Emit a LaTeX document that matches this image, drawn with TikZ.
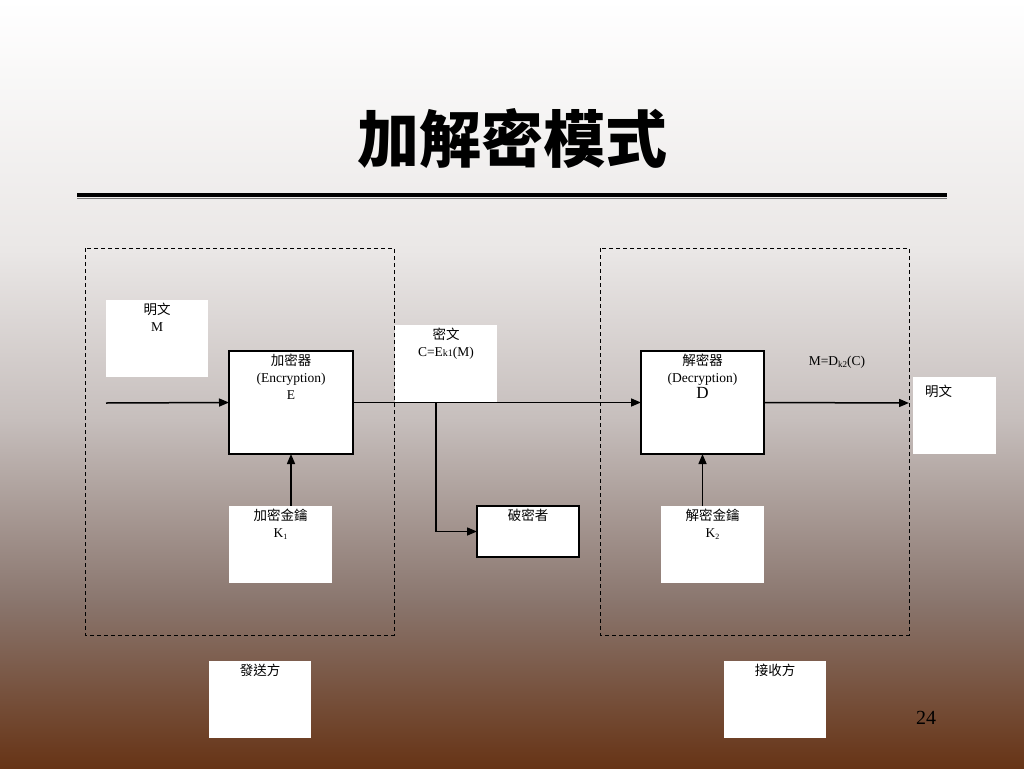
\documentclass[tikz,border=0pt]{standalone}
\usepackage{fontspec}
\setmainfont{Liberation Serif}
\newfontfamily\cjk{Noto Sans CJK TC}
\usetikzlibrary{arrows.meta}
\definecolor{g0}{RGB}{255,255,255}
\definecolor{g1}{RGB}{234,231,230}
\definecolor{g2}{RGB}{198,190,188}
\definecolor{g3}{RGB}{138,118,110}
\definecolor{g4}{RGB}{103,52,22}
\definecolor{rulegray}{RGB}{120,120,120}
\begin{document}
\begin{tikzpicture}[x=1pt,y=-1pt,
  wbox/.style={fill=white,draw=none,anchor=north west,inner sep=0pt,outer sep=0pt},
  bbox/.style={wbox,draw=black,line width=1.1pt},
  dbox/.style={draw=black,line width=1pt,dash pattern=on 4pt off 3pt},
  txt/.style={inner sep=0pt,align=center,anchor=north,font=\fontsize{13.5}{17}\selectfont},
  arr/.style={line width=1.5pt,-{Triangle[length=10pt,width=8pt]}}]
\useasboundingbox (0,0) rectangle (1024,768);
% background gradient
\shade[top color=g0,bottom color=g1] (0,0) rectangle (1024,251);
\shade[top color=g1,bottom color=g2] (0,250) rectangle (1024,421);
\shade[top color=g2,bottom color=g3] (0,420) rectangle (1024,601);
\shade[top color=g3,bottom color=g4] (0,600) rectangle (1024,768);
% title
\node[inner sep=0pt] (title) at (512,139) {\fontsize{62}{64}\selectfont\cjk\bfseries 加解密模式};
\draw[line width=4pt] (77,195) -- (947,195);
\draw[line width=1.1pt,rulegray] (77,198.8) -- (947,198.8);
% dashed group boxes
\draw[dbox] (85,248) rectangle (394,635);
\draw[dbox] (600,248) rectangle (909,635);
% boxes
\node[wbox,minimum width=102pt,minimum height=77pt] (m1) at (106,300) {};
\node[bbox,minimum width=124pt,minimum height=103pt] (enc) at (229,351) {};
\node[wbox,minimum width=102pt,minimum height=78pt] (ct) at (395,325) {};
\node[bbox,minimum width=102pt,minimum height=51pt] (crack) at (477,506) {};
\node[wbox,minimum width=103pt,minimum height=77pt] (k1) at (229,506) {};
\node[bbox,minimum width=123pt,minimum height=103pt] (dec) at (641,351) {};
\node[wbox,minimum width=103pt,minimum height=77pt] (k2) at (661,506) {};
\node[wbox,minimum width=83pt,minimum height=77pt] (m2) at (913,377) {};
\node[wbox,minimum width=102pt,minimum height=77pt] (snd) at (209,661) {};
\node[wbox,minimum width=102pt,minimum height=77pt] (rcv) at (724,661) {};
% texts
\node[txt] (tm1) at ([yshift=-3pt]m1.north) {{\cjk 明文}\\M};
\node[txt] (tenc) at ([yshift=-3pt]enc.north) {{\cjk 加密器}\\(Encryption)\\E};
\node[txt] (tct) at ([yshift=-3pt]ct.north) {{\cjk 密文}\\C=E{\fontsize{10}{10}\selectfont k1}(M)};
\node[txt] (tcrack) at ([yshift=-3pt]crack.north) {\cjk 破密者};
\node[txt] (tk1) at ([yshift=-3pt]k1.north) {{\cjk 加密金鑰}\\K\raisebox{-2pt}{\fontsize{8}{8}\selectfont 1}};
\node[txt] (tdec) at ([yshift=-3pt]dec.north) {{\cjk 解密器}\\(Decryption)\\[-1pt]{\fontsize{17}{17}\selectfont D}};
\node[txt] (tk2) at ([yshift=-3pt]k2.north) {{\cjk 解密金鑰}\\K\raisebox{-2pt}{\fontsize{8}{8}\selectfont 2}};
\node[txt,anchor=north west] (tm2) at (925,385) {\cjk 明文};
\node[txt] (tsnd) at ([yshift=-3pt]snd.north) {\cjk 發送方};
\node[txt] (trcv) at ([yshift=-3pt]rcv.north) {\cjk 接收方};
\node[txt,anchor=center] (dlab) at (837,362) {M=D\raisebox{-2.5pt}{\fontsize{9}{9}\selectfont k2}(C)};
\node[inner sep=0pt] (pg) at (926,718) {\fontsize{20}{20}\selectfont 24};
% connectors
\coordinate (in) at (106,403);
\coordinate (br) at (436,403);
\coordinate (out) at (909,403);
\draw[arr] (in) -- (enc.west);
\draw[arr] (enc.east) -- (dec.west);
\draw[arr] (br) |- (crack.west);
\draw[arr] (k1.north -| enc.south) -- (enc.south);
\draw[arr] (k2.north -| dec.south) -- (dec.south);
\draw[arr] (dec.east) -- (out);
\end{tikzpicture}
\end{document}
